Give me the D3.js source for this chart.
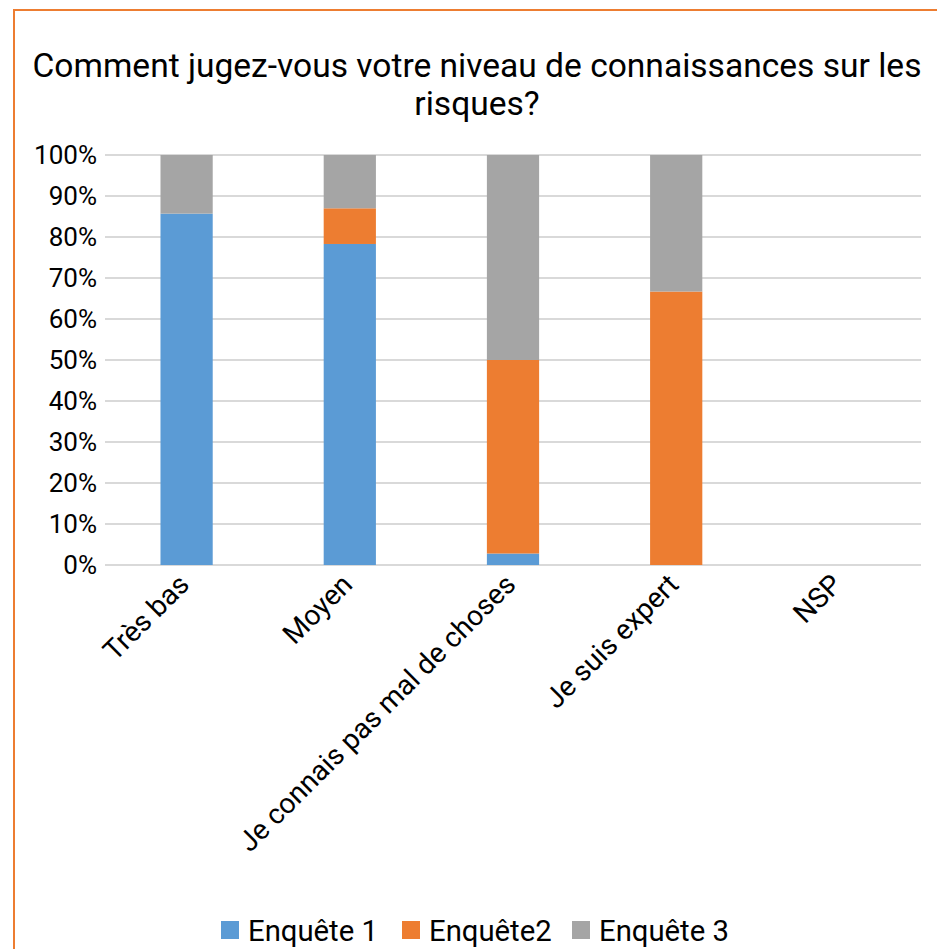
<!DOCTYPE html>
<html>

<head>
  <meta charset="utf-8">
  <script src="https://d3js.org/d3.v7.min.js"></script>
  <style>
    body {
      margin: 0;
      background: #ffffff;
    }

    text {
      font-family: Roboto, "Open Sans", sans-serif;
      fill: #000000;
    }
  </style>
</head>

<body>
  <svg id="chart"></svg>
  <script>
    // data (percent of each answer)
    let categories = ["Très bas", "Moyen", "Je connais pas mal de choses", "Je suis expert", "NSP"]
    let seriesNames = ["Enquête 1", "Enquête2", "Enquête 3"]
    let enquete1 = [85.7, 78.3, 2.8, 0, 0]
    let enquete2 = [0, 8.7, 47.2, 66.7, 0]
    let enquete3 = [14.3, 13.0, 50.0, 33.3, 0]
    let yTicks = [0, 10, 20, 30, 40, 50, 60, 70, 80, 90, 100]
    let colors = ["#5b9bd5", "#ed7d31", "#a5a5a5"]

    svgwidth = 937
    svgheight = 949
    svg = d3.select("#chart")
      .attr("width", svgwidth)
      .attr("height", svgheight)

    var margin = { top: 155, right: 16, bottom: 384, left: 105 }
    width = svgwidth - margin.left - margin.right
    height = svgheight - margin.top - margin.bottom

    // shrink/grow a text so it is as wide as in the original (Calibri is not installed)
    function fitWidth(sel, target) {
      sel.style("font-size", "100px")
      w = sel.node().getComputedTextLength()
      sel.style("font-size", (100 * target / w) + "px")
      return 100 * target / w
    }

    // chart frame
    svg.append("rect")
      .attr("x", 14)
      .attr("y", 10)
      .attr("width", 960)
      .attr("height", 980)
      .attr("fill", "none")
      .attr("stroke", "#ed7d31")
      .attr("stroke-width", 2)

    // title, two lines in one text
    title = svg.append("text")
      .attr("text-anchor", "middle")
    t1 = title.append("tspan")
      .attr("x", 477)
      .attr("y", 76.5)
      .text("Comment jugez-vous votre niveau de connaissances sur les")
    t1.style("font-size", "100px")
    titleSize = 100 * 889 / t1.node().getComputedTextLength()
    t1.style("font-size", null)
    title.style("font-size", titleSize + "px")
    title.append("tspan")
      .attr("x", 477)
      .attr("y", 114.5)
      .text("risques?")

    data = []
    for (i = 0; i < categories.length; i++) {
      data.push({ cat: categories[i], "Enquête 1": enquete1[i], "Enquête2": enquete2[i], "Enquête 3": enquete3[i] })
    }
    stacked = d3.stack().keys(seriesNames)(data)

    var x = d3.scaleBand()
      .domain(categories)
      .range([0, width])
      .paddingInner(0.68)
      .paddingOuter(0.34)

    var y = d3.scaleLinear()
      .domain([0, 100])
      .range([height, 0])

    g = svg.append("g")
      .attr("transform", `translate(${margin.left},${margin.top})`)

    // gridlines
    g.selectAll(".grid")
      .data(yTicks)
      .enter()
      .append("line")
      .attr("x1", 0)
      .attr("x2", width)
      .attr("y1", d => y(d))
      .attr("y2", d => y(d))
      .attr("stroke", "#d9d9d9")
      .attr("stroke-width", 2)

    // y labels
    ylabs = g.selectAll(".ylab")
      .data(yTicks)
      .enter()
      .append("text")
      .attr("x", -8)
      .attr("y", d => y(d))
      .attr("dy", "0.36em")
      .attr("text-anchor", "end")
      .text(d => d + "%")
    labelSize = fitWidth(ylabs.filter(d => d == 100), 63)
    ylabs.style("font-size", labelSize + "px")

    // bars
    g.selectAll(".layer")
      .data(stacked)
      .enter()
      .append("g")
      .attr("fill", (d, i) => colors[i])
      .selectAll("rect")
      .data(d => d)
      .enter()
      .append("rect")
      .attr("x", d => x(d.data.cat))
      .attr("y", d => y(d[1]))
      .attr("width", x.bandwidth())
      .attr("height", d => y(d[0]) - y(d[1]))

    // x labels, rotated
    xlabs = g.selectAll(".xlab")
      .data(categories)
      .enter()
      .append("text")
      .attr("transform", d => `translate(${x(d) + x.bandwidth() / 2 - 3},${height + 14}) rotate(-45)`)
      .attr("dy", "0.36em")
      .attr("text-anchor", "end")
      .text(d => d)
    xSize = fitWidth(xlabs.filter((d, i) => i == 2), 378)
    xlabs.style("font-size", xSize + "px")

    // legend
    legendX = [221, 402, 572]
    legend = svg.selectAll(".legend")
      .data(seriesNames)
      .enter()
      .append("g")
      .attr("transform", (d, i) => `translate(${legendX[i]},921)`)
    legend.append("rect")
      .attr("width", 18)
      .attr("height", 18)
      .attr("fill", (d, i) => colors[i])
    legtext = legend.append("text")
      .attr("x", 27)
      .attr("y", 9)
      .attr("dy", "0.36em")
      .text(d => d)
    legSize = fitWidth(legtext.filter((d, i) => i == 0), 130)
    legtext.style("font-size", legSize + "px")
  </script>
</body>

</html>
